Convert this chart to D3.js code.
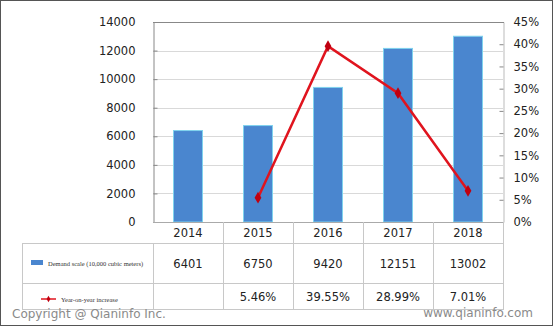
<!DOCTYPE html>
<html>
<head>
<meta charset="utf-8">
<script src="https://cdn.jsdelivr.net/npm/d3@7"></script>
<style>
  body { margin: 0; background: #fff; }
  svg { display: block; }
</style>
</head>
<body>
<svg id="chart"></svg>
<script>
const years = ["2014", "2015", "2016", "2017", "2018"];
const demand = [6401, 6750, 9420, 12151, 13002];
const growth = [null, 5.46, 39.55, 28.99, 7.01];
const leftTicks = [0, 2000, 4000, 6000, 8000, 10000, 12000, 14000];
const rightTicks = [0, 5, 10, 15, 20, 25, 30, 35, 40, 45];
const seriesNames = ["Demand scale (10,000 cubic meters)", "Year-on-year increase"];

const width = 553, height = 326;
const plot = { left: 153, right: 503, top: 22, bottom: 222 };
const font = "Verdana, 'DejaVu Sans', sans-serif";
const fs = "11.5px";

const svg = d3.select("#chart").attr("width", width).attr("height", height);

// outer frame
svg.append("rect")
  .attr("x", 0.5).attr("y", 0.5)
  .attr("width", width - 1).attr("height", height - 1)
  .attr("fill", "#fff").attr("stroke", "#555");

const x = d3.scaleBand().domain(years).range([plot.left, plot.right]);
const yL = d3.scaleLinear().domain([0, 14000]).range([plot.bottom, plot.top]);
const yR = d3.scaleLinear().domain([0, 45]).range([plot.bottom, plot.top]);

// gridlines
svg.append("g")
  .selectAll("line")
  .data(leftTicks.slice(1))
  .enter().append("line")
  .attr("x1", plot.left).attr("x2", plot.right)
  .attr("y1", d => Math.round(yL(d)) + 0.5)
  .attr("y2", d => Math.round(yL(d)) + 0.5)
  .attr("stroke", "#d9d9d9");

// left axis
const leftAxis = svg.append("g")
  .attr("transform", `translate(${plot.left + 0.5},0)`)
  .call(d3.axisLeft(yL).tickValues(leftTicks).tickFormat(d3.format("d")).tickSize(0).tickPadding(18));
leftAxis.select(".domain").attr("stroke", "#888");
leftAxis.selectAll("text").style("font-family", font).style("font-size", fs).attr("fill", "#222");
leftAxis.selectAll(".tick").append("line")
  .attr("x1", 0).attr("x2", 4).attr("stroke", "#888");

// right axis
const rightAxis = svg.append("g")
  .attr("transform", `translate(${plot.right + 0.5},0)`)
  .call(d3.axisRight(yR).tickValues(rightTicks).tickFormat(d => d + "%").tickSize(0).tickPadding(10));
rightAxis.select(".domain").attr("stroke", "#bbb");
rightAxis.selectAll("text").style("font-family", font).style("font-size", fs).attr("fill", "#222");
rightAxis.selectAll(".tick").append("line")
  .attr("x1", -4).attr("x2", 0).attr("stroke", "#888");

// top border
svg.append("line")
  .attr("x1", plot.left).attr("x2", plot.right + 1)
  .attr("y1", plot.top + 0.5).attr("y2", plot.top + 0.5)
  .attr("stroke", "#888");

// bars
const barW = 29;
svg.selectAll(".bar")
  .data(demand)
  .enter().append("rect")
  .attr("class", "bar")
  .attr("x", (d, i) => x(years[i]) + x.bandwidth() / 2 - barW / 2)
  .attr("y", d => yL(d))
  .attr("width", barW)
  .attr("height", d => plot.bottom - yL(d))
  .attr("fill", "#4a86cf")
  .attr("stroke", "#7fd3ee")
  .attr("stroke-width", 1);

// x axis baseline
svg.append("line")
  .attr("x1", plot.left).attr("x2", plot.right)
  .attr("y1", plot.bottom + 0.5).attr("y2", plot.bottom + 0.5)
  .attr("stroke", "#aaa");

// growth line
const pts = growth.map((v, i) => ({ v, year: years[i] })).filter(d => d.v !== null);
const line = d3.line()
  .x(d => x(d.year) + x.bandwidth() / 2)
  .y(d => yR(d.v));
svg.append("path")
  .datum(pts)
  .attr("d", line)
  .attr("fill", "none")
  .attr("stroke", "#e0141e")
  .attr("stroke-width", 2.5);
svg.selectAll(".marker")
  .data(pts)
  .enter().append("path")
  .attr("class", "marker")
  .attr("d", d3.symbol().type(d3.symbolDiamond).size(40))
  .attr("transform", d => `translate(${x(d.year) + x.bandwidth() / 2},${yR(d.v)})`)
  .attr("fill", "#c00010");

// data table
const tbl = { left: 22, headBottom: 243, row1Bottom: 283, row2Bottom: 309 };
const gridC = "#c8c8c8";
const tg = svg.append("g");
// vertical separators
const colEdges = [plot.left].concat(years.map(y => x(y) + x.bandwidth()));
colEdges.forEach((cx, i) => {
  tg.append("line")
    .attr("x1", Math.round(cx) + 0.5).attr("x2", Math.round(cx) + 0.5)
    .attr("y1", i === 0 ? tbl.headBottom : plot.bottom)
    .attr("y2", tbl.row2Bottom)
    .attr("stroke", gridC);
});
tg.append("line")
  .attr("x1", tbl.left + 0.5).attr("x2", tbl.left + 0.5)
  .attr("y1", tbl.headBottom).attr("y2", tbl.row2Bottom)
  .attr("stroke", gridC);
[tbl.headBottom, tbl.row1Bottom, tbl.row2Bottom].forEach(yy => {
  tg.append("line")
    .attr("x1", tbl.left).attr("x2", plot.right + 1)
    .attr("y1", yy + 0.5).attr("y2", yy + 0.5)
    .attr("stroke", gridC);
});

// year labels
tg.selectAll(".year")
  .data(years)
  .enter().append("text")
  .attr("x", d => x(d) + x.bandwidth() / 2)
  .attr("y", plot.bottom + 15)
  .attr("text-anchor", "middle")
  .style("font-family", font).style("font-size", fs)
  .attr("fill", "#222")
  .text(d => d);

// value rows
tg.selectAll(".val1")
  .data(demand)
  .enter().append("text")
  .attr("x", (d, i) => x(years[i]) + x.bandwidth() / 2)
  .attr("y", 268)
  .attr("text-anchor", "middle")
  .style("font-family", font).style("font-size", fs)
  .attr("fill", "#222")
  .text(d => d);
tg.selectAll(".val2")
  .data(growth)
  .enter().append("text")
  .attr("x", (d, i) => x(years[i]) + x.bandwidth() / 2)
  .attr("y", 301)
  .attr("text-anchor", "middle")
  .style("font-family", font).style("font-size", fs)
  .attr("fill", "#222")
  .text(d => d === null ? "" : d.toFixed(2) + "%");

// legend keys
tg.append("rect")
  .attr("x", 31).attr("y", 260).attr("width", 12).attr("height", 5)
  .attr("fill", "#4a86cf");
tg.append("text")
  .attr("x", 48).attr("y", 266)
  .style("font-family", "'Liberation Serif', serif").style("font-size", "6.5px")
  .attr("fill", "#333")
  .text(seriesNames[0]);
tg.append("line")
  .attr("x1", 41).attr("x2", 56).attr("y1", 299).attr("y2", 299)
  .attr("stroke", "#e0141e").attr("stroke-width", 1.5);
tg.append("path")
  .attr("d", d3.symbol().type(d3.symbolDiamond).size(12))
  .attr("transform", "translate(48.5,299)")
  .attr("fill", "#c00010");
tg.append("text")
  .attr("x", 61).attr("y", 302)
  .style("font-family", "'Liberation Serif', serif").style("font-size", "6.5px")
  .attr("fill", "#333")
  .text(seriesNames[1]);

// watermarks
svg.append("text")
  .attr("x", 12).attr("y", 318)
  .style("font-family", font).style("font-size", "12px")
  .attr("fill", "#8a8a8a")
  .text("Copyright @ Qianinfo Inc.");
svg.append("text")
  .attr("x", 533).attr("y", 317)
  .attr("text-anchor", "end")
  .style("font-family", font).style("font-size", "12px")
  .attr("fill", "#8a8a8a")
  .text("www.qianinfo.com");
</script>
</body>
</html>
